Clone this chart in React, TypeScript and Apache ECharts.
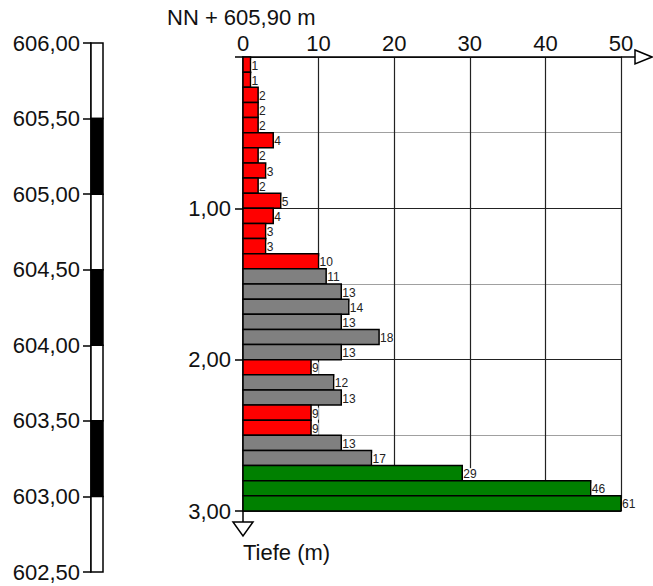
import React, { useEffect, useRef } from "react";
import * as echarts from "echarts";

// Elevation scale (m above NN)
const elevationMin = 602.5;
const elevationMax = 606.0;
const elevationStep = 0.5;
// alternating shading of 0.5 m segments from top (606.00) to bottom (602.50): 0 = white, 1 = black
const elevationShade = [0, 1, 0, 1, 0, 1, 0];

// Penetration test: blow counts per 0.1 m depth
const depthStep = 0.1;
const blowCounts = [
  1, 1, 2, 2, 2, 4, 2, 3, 2, 5,
  4, 3, 3, 10, 11, 13, 14, 13, 18, 13,
  9, 12, 13, 9, 9, 13, 17, 29, 46, 61,
];
const xTicksMax = 50;
const depthMax = 3.0;
const titleText = "NN + 605,90 m";
const depthAxisName = "Tiefe (m)";

const FONT = "Liberation Sans, Arial, sans-serif";

function colorFor(v: number): string {
  if (v <= 10) return "#ff0000";
  if (v <= 20) return "#808080";
  return "#008000";
}

export default function App() {
  const ref = useRef<HTMLDivElement>(null);

  useEffect(() => {
    if (!ref.current) return;
    const chart = echarts.init(ref.current, undefined, { renderer: "svg" });

    const segData = elevationShade.map((s, i) => [
      elevationMax - i * elevationStep,
      elevationMax - (i + 1) * elevationStep,
      s,
    ]);
    const barData = blowCounts.map((v, i) => [
      +(i * depthStep).toFixed(2),
      +((i + 1) * depthStep).toFixed(2),
      v,
    ]);

    const fmt = (v: number) => v.toFixed(2).replace(".", ",");

    chart.setOption({
      animation: false,
      title: {
        text: titleText,
        left: 165,
        top: 2,
        padding: 2,
        textStyle: { fontFamily: FONT, fontSize: 22, fontWeight: "normal", color: "#111", lineHeight: 26 },
      },
      grid: [
        { left: 91, top: 43, width: 12, height: 529 },
        { left: 243, top: 57, width: 378, height: 454 },
      ],
      xAxis: [
        { gridIndex: 0, type: "value", min: 0, max: 1, show: false },
        {
          gridIndex: 1,
          type: "value",
          position: "top",
          min: 0,
          max: xTicksMax,
          interval: 10,
          axisLine: { show: true, lineStyle: { color: "#000", width: 1.5 } },
          axisTick: { show: false },
          axisLabel: { fontFamily: FONT, fontSize: 22, color: "#111", margin: 3, lineHeight: 22 },
          splitLine: { show: true, lineStyle: { color: "#222", width: 1.2 } },
        },
      ],
      yAxis: [
        {
          gridIndex: 0,
          type: "value",
          min: elevationMin,
          max: elevationMax,
          interval: elevationStep,
          axisLine: { show: true, lineStyle: { color: "#000", width: 1.5 } },
          axisTick: { show: true, length: 8, lineStyle: { color: "#000", width: 1.5 } },
          axisLabel: { fontFamily: FONT, fontSize: 22, color: "#111", margin: 11, formatter: fmt },
          splitLine: { show: false },
        },
        {
          gridIndex: 1,
          type: "value",
          inverse: true,
          min: 0,
          max: depthMax,
          interval: 1,
          axisLine: { show: true, lineStyle: { color: "#000", width: 1.5 } },
          axisTick: { show: true, length: 8, lineStyle: { color: "#000", width: 1.5 } },
          axisLabel: {
            fontFamily: FONT,
            fontSize: 22,
            color: "#111",
            margin: 12,
            formatter: (v: number) => (v === 0 ? "" : fmt(v)),
          },
          splitLine: { show: true, lineStyle: { color: "#222", width: 1.2 } },
        },
        {
          gridIndex: 1,
          type: "value",
          inverse: true,
          min: 0,
          max: depthMax,
          interval: 0.5,
          axisLine: { show: false },
          axisTick: { show: false },
          axisLabel: { show: false },
          splitLine: {
            show: true,
            lineStyle: { color: ["rgba(0,0,0,0)", "#a0a0a0"], width: 1.2 },
          },
        },
      ],
      series: [
        {
          type: "custom",
          xAxisIndex: 0,
          yAxisIndex: 0,
          data: segData,
          renderItem: (params: any, api: any) => {
            const top = api.value(0);
            const bot = api.value(1);
            const shade = api.value(2);
            const p0 = api.coord([0, top]);
            const p1 = api.coord([1, bot]);
            return {
              type: "rect",
              shape: { x: p0[0], y: p0[1], width: p1[0] - p0[0], height: p1[1] - p0[1] },
              style: { fill: shade ? "#000" : "#fff", stroke: "#000", lineWidth: 1.5 },
            };
          },
        },
        {
          type: "custom",
          xAxisIndex: 1,
          yAxisIndex: 1,
          clip: false,
          data: barData,
          renderItem: (params: any, api: any) => {
            const top = api.value(0);
            const bot = api.value(1);
            const v = api.value(2);
            const p0 = api.coord([0, top]);
            const p1 = api.coord([Math.min(v, xTicksMax), bot]);
            return {
              type: "group",
              children: [
                {
                  type: "rect",
                  shape: { x: p0[0], y: p0[1], width: p1[0] - p0[0], height: p1[1] - p0[1] },
                  style: { fill: colorFor(v), stroke: "#000", lineWidth: 1.5 },
                },
                {
                  type: "text",
                  x: p1[0] + 1,
                  y: (p0[1] + p1[1]) / 2 + 1,
                  style: {
                    text: String(v),
                    fill: "#222",
                    fontFamily: FONT,
                    fontSize: 12,
                    align: "left",
                    verticalAlign: "middle",
                    backgroundColor: "#fff",
                  },
                },
              ],
            };
          },
        },
      ],
    });

    const o = chart.convertToPixel({ gridIndex: 1 }, [0, 0]) as number[];
    const e = chart.convertToPixel({ gridIndex: 1 }, [xTicksMax, depthMax]) as number[];
    const x0 = o[0], y0 = o[1], x1 = e[0], y1 = e[1];
    chart.setOption({
      graphic: [
        { type: "line", shape: { x1: x1, y1: y0, x2: x1 + 14, y2: y0 }, style: { stroke: "#000", lineWidth: 1.5 } },
        {
          type: "polygon",
          shape: { points: [[x1 + 14, y0 - 7], [x1 + 31, y0], [x1 + 14, y0 + 7]] },
          style: { fill: "#fff", stroke: "#000", lineWidth: 1.5 },
        },
        { type: "line", shape: { x1: x0, y1: y1, x2: x0, y2: y1 + 11 }, style: { stroke: "#000", lineWidth: 1.5 } },
        {
          type: "polygon",
          shape: { points: [[x0 - 10, y1 + 11], [x0 + 10, y1 + 11], [x0, y1 + 25]] },
          style: { fill: "#fff", stroke: "#000", lineWidth: 1.5 },
        },
        {
          type: "text",
          x: x0,
          y: y1 + 41,
          style: {
            text: depthAxisName,
            fill: "#111",
            fontFamily: FONT,
            fontSize: 22,
            align: "left",
            verticalAlign: "middle",
          },
        },
      ],
    });

    return () => chart.dispose();
  }, []);

  return <div ref={ref} style={{ width: 653, height: 586, position: "absolute", left: 0, top: 0 }} />;
}
